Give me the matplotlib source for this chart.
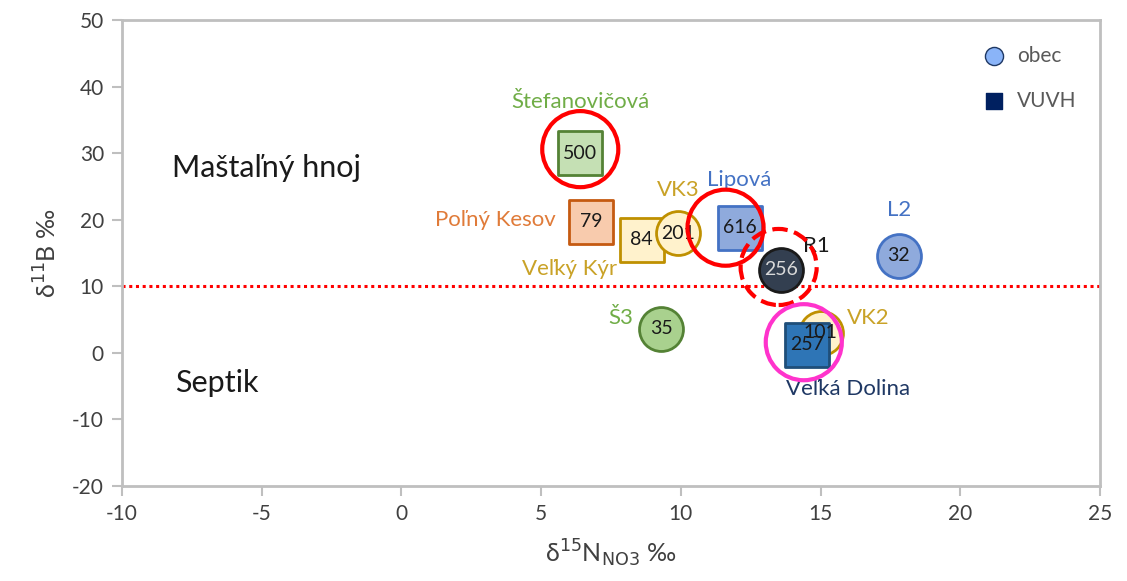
import matplotlib.pyplot as plt

plt.rcParams['font.family'] = ['Lato', 'DejaVu Sans']
plt.rcParams['axes.unicode_minus'] = False

# sampling sites: d15N (x), d11B (y), marker number, site name
names = ['Štefanovičová', 'Poľný Kesov', 'Veľký Kýr', 'VK3', 'Lipová', 'R1',
         'L2', 'Š3', 'VK2', 'Veľká Dolina']
d15n = [6.4, 6.8, 8.6, 9.9, 12.1, 13.6, 17.8, 9.3, 15.0, 14.5]
d11b = [30.0, 19.7, 17.0, 18.0, 18.8, 12.5, 14.6, 3.6, 3.0, 1.2]
nums = ['500', '79', '84', '201', '616', '256', '32', '35', '101', '257']
source = ['VUVH', 'VUVH', 'VUVH', 'obec', 'VUVH', 'obec', 'obec', 'obec', 'obec', 'VUVH']

face = ['#C5E0B4', '#F8CBAD', '#FFF2CC', '#FFF2CC', '#8FAADC', '#333F50',
        '#8FAADC', '#A9D18E', '#FFF2CC', '#2E75B6']
edge = ['#548235', '#C55A11', '#BF9000', '#BF9000', '#4472C4', '#1A1A1A',
        '#4472C4', '#548235', '#BF9000', '#1F4E79']
num_col = ['#1A1A1A'] * 5 + ['#D9D9D9'] + ['#1A1A1A'] * 4
lab_col = ['#70AD47', '#E07B39', '#C9A227', '#C9A227', '#4472C4', '#1A1A1A',
           '#4472C4', '#70AD47', '#C9A227', '#1F3864']
# label offsets in points from the marker
lab_off = [(0, 37), (-26, 1), (-18, -21), (0, 31), (0, 34), (25, 17),
           (0, 33), (-29, 8), (34, 11), (30, -32)]
lab_ha = ['center', 'right', 'right', 'center', 'center', 'center',
          'center', 'center', 'center', 'center']

# highlighted sites: (index, colour, linestyle)
rings = [(0, '#FF0000', '-'), (4, '#FF0000', '-'), (5, '#FF0000', '--'),
         (9, '#FF33CC', '-')]
ring_shift = [(0, 0.6), (-0.5, 0.0), (-0.1, 0.4), (-0.1, 0.4)]

limit = 10

fig = plt.figure(figsize=(11.27, 5.81), dpi=100)
ax = fig.add_axes([0.1083, 0.1635, 0.8677, 0.8021])

ax.axhline(limit, color='#FF0000', linestyle=(0, (1, 1.2)), linewidth=2.2, zorder=1)

for i in range(len(names)):
    m = 's' if source[i] == 'VUVH' else 'o'
    ax.scatter(d15n[i], d11b[i], s=1000, marker=m, facecolor=face[i],
               edgecolor=edge[i], linewidth=2, zorder=3)
    ax.annotate(nums[i], (d15n[i], d11b[i]), ha='center', va='center',
                fontsize=14, color=num_col[i], zorder=4)
    ax.annotate(names[i], (d15n[i], d11b[i]), xytext=lab_off[i],
                textcoords='offset points', ha=lab_ha[i], va='center',
                fontsize=16, color=lab_col[i], zorder=4)

for (k, c, ls), (dx, dy) in zip(rings, ring_shift):
    ax.scatter(d15n[k] + dx, d11b[k] + dy, s=3000, marker='o', facecolor='none',
               edgecolor=c, linewidth=3, linestyle=ls, zorder=5)

ax.text(-8.2, 27.8, 'Maštaľný hnoj', fontsize=22, color='#1A1A1A', va='center')
ax.text(-8.1, -4.6, 'Septik', fontsize=22, color='#1A1A1A', va='center')

# legend entries
ax.scatter([], [], s=170, marker='o', facecolor='#8AB4F8', edgecolor='#1F3864',
           linewidth=1, label='obec')
ax.scatter([], [], s=120, marker='s', facecolor='#002060', edgecolor='#002060',
           label='VUVH')
leg = ax.legend(loc='upper right', frameon=False, fontsize=15, handletextpad=0.1,
                labelspacing=1.2, bbox_to_anchor=(0.995, 0.985), labelcolor='#595959')

ax.set_xlim(-10, 25)
ax.set_ylim(-20, 50)
ax.set_xticks(range(-10, 26, 5))
ax.set_yticks(range(-20, 51, 10))
ax.tick_params(labelsize=15, colors='#BFBFBF', labelcolor='#404040',
               length=7, width=1.5, pad=6)
for s in ax.spines.values():
    s.set_color('#BFBFBF')
    s.set_linewidth(2)

ax.set_xlabel(r'δ$^{15}$N$_{\mathrm{NO3}}$ ‰', fontsize=18, color='#404040', labelpad=10)
ax.set_ylabel(r'δ$^{11}$B ‰', fontsize=18, color='#404040', labelpad=8)

fig.savefig('out.png', dpi=100)
